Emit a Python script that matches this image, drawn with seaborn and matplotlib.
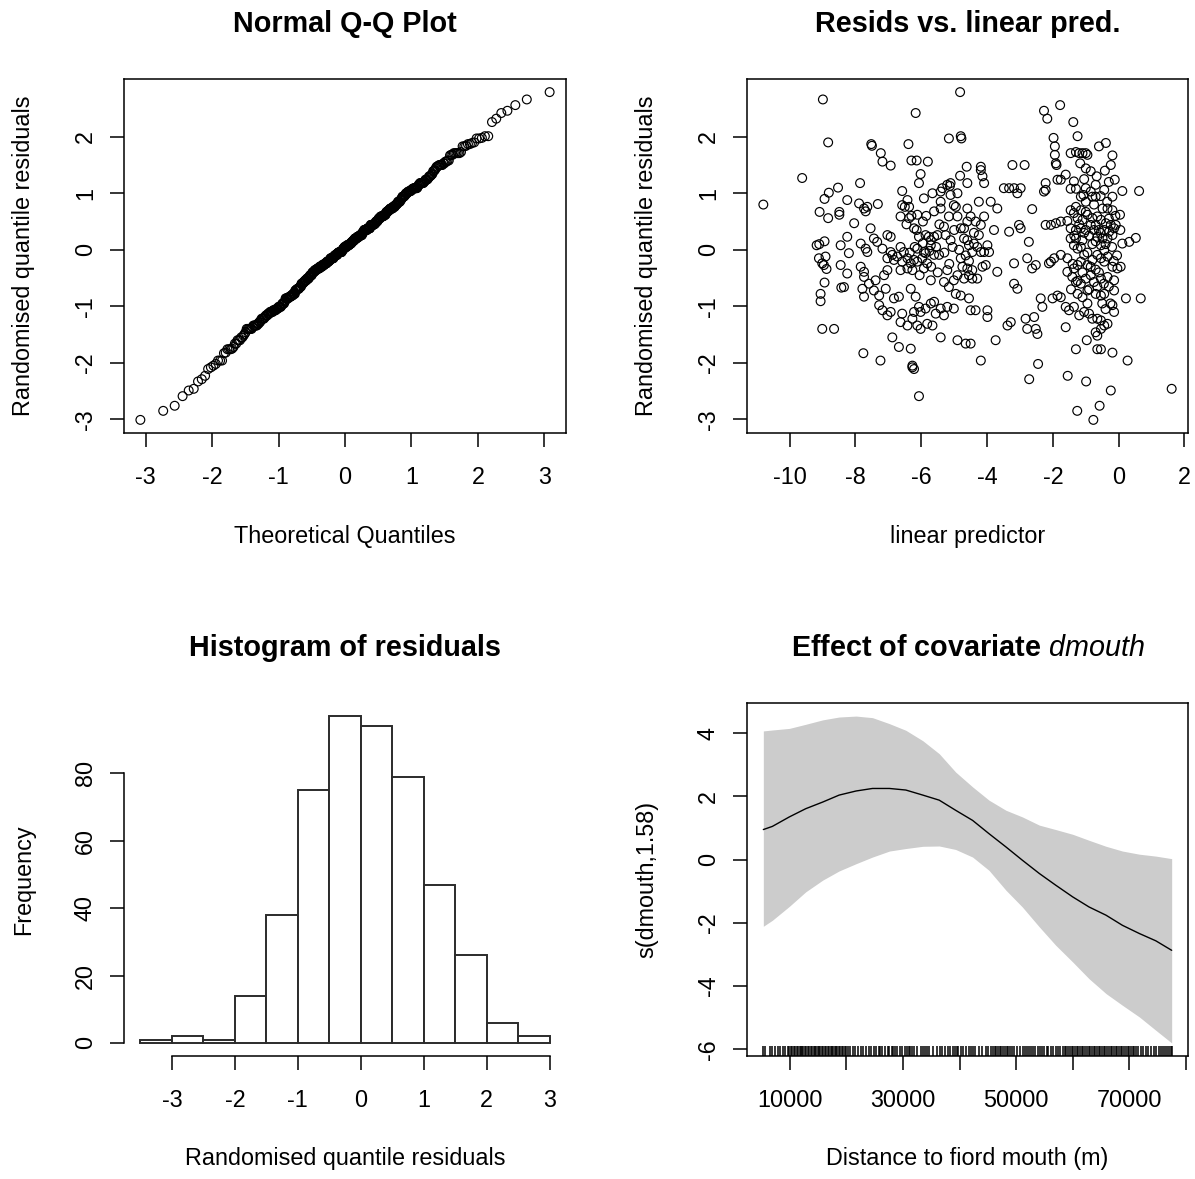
import statistics
import numpy as np
import matplotlib
matplotlib.use('Agg')
import matplotlib.pyplot as plt
import seaborn as sns

# residuals vs linear predictor (lin_pred, resid)
far_left = [(-8.99, 2.66), (-8.83, 1.90), (-9.62, 1.27), (-10.80, 0.80), (-8.53, 1.10), (-8.81, 1.01),
            (-8.94, 0.90), (-9.09, 0.67), (-8.83, 0.56), (-8.49, 0.67), (-8.49, 0.62), (-8.94, 0.15),
            (-9.18, 0.08), (-9.10, 0.10), (-8.45, 0.08), (-9.11, -0.15), (-9.01, -0.24), (-8.91, -0.12),
            (-8.96, -0.27), (-8.88, -0.34), (-8.94, -0.58), (-9.06, -0.78), (-9.06, -0.91), (-9.01, -1.40),
            (-8.65, -1.40), (-8.43, -0.67)]
left_tails = [(-7.52, 1.87), (-7.50, 1.84), (-6.39, 1.87), (-5.16, 1.97), (-6.17, 2.42), (-4.82, 2.79),
              (-4.80, 2.01), (-4.78, 1.97), (-7.76, -1.83), (-7.24, -1.96), (-6.27, -2.05), (-6.27, -2.08),
              (-6.22, -2.11), (-6.07, -2.59)]
left_top = [(-7.23, 1.71), (-7.18, 1.56), (-6.93, 1.49), (-6.30, 1.58), (-6.14, 1.58), (-5.80, 1.56),
            (-4.62, 1.47), (-4.19, 1.47), (-4.19, 1.41), (-3.23, 1.50), (-2.86, 1.50),
            (-6.02, 1.34), (-6.07, 1.18), (-7.86, 1.18), (-6.58, 1.04), (-5.11, 1.18), (-5.21, 1.15),
            (-4.82, 1.31), (-4.60, 1.18), (-4.14, 1.30), (-4.09, 1.18), (-3.49, 1.09), (-3.33, 1.09),
            (-3.18, 1.09), (-3.08, 1.00), (-2.98, 1.09), (-2.63, 0.72)]
left_upper_mid = [(-8.25, 0.88), (-7.89, 0.82), (-7.74, 0.73), (-7.64, 0.76), (-7.69, 0.68), (-7.32, 0.81),
                  (-6.58, 0.79), (-6.42, 0.88), (-6.37, 0.76), (-6.63, 0.59), (-6.37, 0.56), (-6.12, 0.62),
                  (-5.92, 0.91), (-5.66, 1.00), (-5.41, 1.03), (-5.61, 0.68), (-5.41, 0.85), (-5.41, 0.73),
                  (-5.11, 0.97), (-4.90, 1.00), (-5.01, 0.79), (-4.95, 0.76), (-4.60, 0.73), (-4.50, 0.59),
                  (-4.60, 0.50), (-4.35, 0.50), (-4.25, 0.85), (-3.89, 0.85), (-3.69, 0.73), (-4.09, 0.59),
                  (-4.19, 0.44), (-4.80, 0.38), (-4.70, 0.38), (-5.36, 1.09), (-5.13, 1.13), (-5.85, 0.60),
                  (-6.50, 0.76), (-6.30, 0.60)]
left_centre = [(-8.04, 0.47), (-7.54, 0.38), (-7.44, 0.20), (-7.03, 0.26), (-6.93, 0.23), (-6.93, -0.04),
               (-6.88, -0.09), (-6.63, 0.05), (-6.22, 0.38), (-6.14, 0.35), (-6.07, 0.23), (-5.87, 0.26),
               (-5.77, 0.23), (-5.71, 0.17), (-5.61, 0.23), (-5.51, 0.26), (-5.71, 0.08), (-5.92, -0.04),
               (-6.12, 0.02), (-5.26, 0.26), (-5.11, 0.17), (-5.31, 0.41), (-5.16, 0.59), (-4.90, 0.59),
               (-4.70, 0.20), (-4.60, 0.17), (-4.55, 0.08), (-4.40, 0.11), (-4.30, 0.05), (-4.45, -0.04),
               (-4.19, -0.04), (-4.09, -0.04), (-3.94, -0.04), (-3.99, 0.08), (-4.25, 0.26), (-3.79, 0.35),
               (-3.33, 0.32), (-2.98, 0.38), (-3.03, 0.44), (-2.73, 0.14), (-8.25, 0.23), (-8.20, -0.06),
               (-7.84, 0.11), (-7.69, 0.02), (-7.64, -0.04), (-7.34, 0.14), (-7.18, 0.02),
               (-6.20, 0.05), (-5.95, 0.12), (-5.75, -0.02), (-5.55, 0.05), (-5.30, -0.05), (-5.05, 0.05),
               (-4.85, 0.00), (-4.65, -0.10), (-6.35, -0.05), (-4.40, 0.30), (-6.45, 0.45), (-5.95, 0.50),
               (-5.45, 0.45), (-5.00, 0.35)]
left_lower_mid = [(-7.03, -0.15), (-6.83, -0.18), (-6.73, -0.12), (-6.58, -0.21), (-6.53, -0.04), (-6.42, -0.15),
                  (-6.32, -0.24), (-6.22, -0.18), (-6.12, -0.21), (-5.97, -0.15), (-5.87, -0.06), (-5.82, -0.24),
                  (-5.61, -0.09), (-5.46, -0.09), (-5.92, -0.33), (-6.42, -0.33), (-6.27, -0.36), (-6.63, -0.36),
                  (-7.03, -0.36), (-7.84, -0.30), (-7.74, -0.39), (-8.25, -0.42), (-8.35, -0.66), (-7.74, -0.48),
                  (-7.59, -0.60), (-7.39, -0.54), (-7.13, -0.45), (-5.71, -0.54), (-5.31, -0.57), (-5.21, -0.36),
                  (-5.01, -0.54), (-4.80, -0.15), (-4.75, -0.30), (-4.60, -0.33), (-4.55, -0.45), (-4.45, -0.36),
                  (-4.70, -0.51), (-4.45, -0.51), (-4.30, -0.51), (-4.14, -0.30), (-4.04, -0.27), (-3.69, -0.39),
                  (-3.18, -0.24), (-2.78, -0.15), (-2.63, -0.33), (-2.52, -0.27), (-8.45, -0.27),
                  (-6.05, -0.45), (-5.70, -0.30), (-5.50, -0.40), (-5.15, -0.25), (-4.90, -0.45), (-4.55, -0.20)]
left_bottom = [(-7.79, -0.69), (-7.74, -0.83), (-7.44, -0.72), (-7.28, -0.81), (-7.28, -0.98), (-7.08, -0.69),
               (-6.83, -0.86), (-6.68, -0.83), (-6.93, -1.10), (-7.03, -1.16), (-7.18, -1.07), (-6.32, -0.69),
               (-6.17, -0.83), (-6.07, -1.01), (-6.02, -1.10), (-5.87, -1.04), (-5.71, -0.95), (-5.61, -0.92),
               (-5.56, -1.13), (-5.41, -1.04), (-5.31, -1.16), (-6.22, -1.10), (-6.27, -1.22), (-6.58, -1.13),
               (-6.63, -1.28), (-5.16, -0.66), (-4.95, -0.78), (-4.80, -0.81), (-4.55, -0.86), (-4.50, -1.07),
               (-4.35, -1.07), (-5.21, -1.01), (-5.01, -1.04), (-3.99, -1.07), (-3.99, -1.19), (-3.38, -1.34),
               (-3.28, -1.28), (-3.18, -0.60), (-3.08, -0.69), (-2.83, -1.22), (-2.57, -1.19), (-2.52, -1.40),
               (-6.42, -1.34), (-6.02, -1.40), (-5.82, -1.31), (-5.66, -1.34), (-5.41, -1.55), (-6.12, -1.34),
               (-6.88, -1.55), (-6.68, -1.72), (-6.32, -1.75), (-4.90, -1.60), (-4.65, -1.66), (-4.50, -1.66),
               (-3.74, -1.60), (-2.78, -1.40), (-2.47, -1.49)]
right_upper = [(-2.27, 2.46), (-2.17, 2.32), (-1.78, 2.56), (-1.38, 2.26), (-1.25, 2.01), (-1.98, 1.98),
               (-1.94, 1.83), (-1.94, 1.68), (-1.91, 1.53), (-1.89, 1.50), (-1.46, 1.71), (-1.30, 1.73),
               (-1.20, 1.71), (-1.10, 1.71), (-1.00, 1.71), (-0.95, 1.68), (-1.17, 1.53), (-1.00, 1.44),
               (-0.85, 1.39), (-0.67, 1.30), (-0.60, 1.83), (-0.39, 1.89), (-0.19, 1.67), (-0.24, 1.50),
               (-0.42, 1.40), (-0.12, 1.24), (-0.44, 1.06), (-0.19, 0.94), (0.11, 1.04), (0.62, 1.04),
               (-1.76, 1.24), (-1.86, 1.24), (-1.61, 1.33), (-2.22, 1.18), (-2.22, 1.06), (-2.27, 1.03),
               (-1.36, 1.21), (-1.46, 1.08), (-1.30, 1.08), (-1.00, 1.09), (-0.85, 1.03), (-1.15, 0.94),
               (-1.07, 0.97), (-0.80, 0.94), (-0.70, 0.94), (-1.05, 1.25), (-0.70, 1.15), (-0.30, 1.20)]
right_mid = [(-1.46, 0.70), (-1.30, 0.76), (-1.15, 0.70), (-1.00, 0.67), (-1.36, 0.65), (-1.25, 0.56),
             (-1.10, 0.53), (-0.95, 0.62), (-0.80, 0.56), (-0.65, 0.59), (-0.49, 0.73), (-0.34, 0.73),
             (-0.19, 0.70), (0.04, 0.62), (-0.54, 0.53), (-0.39, 0.47), (-0.24, 0.44), (-0.09, 0.44),
             (-1.46, 0.38), (-1.30, 0.35), (-1.15, 0.38), (-1.00, 0.35), (-0.85, 0.44), (-0.70, 0.44),
             (-0.75, 0.35), (-0.60, 0.35), (-0.44, 0.35), (-0.29, 0.32), (-0.14, 0.38), (-0.65, 0.23),
             (-0.49, 0.20), (-0.34, 0.20), (-0.19, 0.26), (0.11, 0.11), (0.32, 0.14), (0.52, 0.21),
             (-2.22, 0.44), (-2.06, 0.44), (-1.91, 0.47), (-1.76, 0.50), (-1.56, 0.51), (-1.46, 0.20),
             (-1.30, 0.20), (-1.10, 0.17), (-1.36, 0.08), (-1.25, 0.02), (-0.54, 0.08), (-0.44, -0.01),
             (-1.20, 0.45), (-1.05, 0.30), (-0.90, 0.25), (-0.80, 0.10), (-0.70, 0.15), (-0.55, 0.30),
             (-0.40, 0.10), (-0.30, 0.55), (-1.15, 0.05), (-0.95, -0.05), (-1.00, 0.85), (-0.75, 0.80),
             (-0.55, 0.95), (-0.35, 0.85), (-0.20, 0.05), (-1.35, 0.25), (-0.10, 0.60), (0.05, 0.35)]
right_lower = [(-2.06, -0.21), (-2.12, -0.24), (-1.96, -0.15), (-1.76, -0.09), (-1.56, -0.15), (-1.56, -0.39),
               (-1.41, -0.48), (-1.36, -0.33), (-1.25, -0.27), (-1.15, -0.21), (-1.05, -0.09), (-0.95, -0.27),
               (-0.80, -0.18), (-0.65, -0.09), (-0.54, -0.15), (-0.44, -0.21), (-0.34, -0.12), (-0.19, -0.30),
               (-0.04, -0.33), (0.06, -0.30), (-1.30, -0.57), (-1.15, -0.60), (-1.00, -0.51), (-0.85, -0.45),
               (-0.75, -0.57), (-0.54, -0.51), (-0.34, -0.48), (-0.14, -0.54), (-1.25, -0.78), (-1.10, -0.84),
               (-0.95, -0.72), (-0.70, -0.78), (-0.54, -0.81), (-0.14, -0.72), (-0.44, -0.78), (0.22, -0.86),
               (0.67, -0.86), (-2.37, -0.86), (-2.32, -1.01), (-2.01, -0.86), (-1.86, -0.81), (-1.76, -0.84),
               (-1.61, -1.01), (-1.51, -1.07), (-1.36, -1.01), (-1.20, -1.16), (-1.05, -1.10), (-0.90, -1.13),
               (-0.80, -1.22), (-0.65, -1.22), (-0.54, -1.25), (-0.44, -1.34), (-0.34, -1.31), (-0.19, -0.98),
               (-0.14, -1.10), (-0.70, -1.46), (-0.65, -1.52), (-0.54, -1.40), (-1.61, -1.37),
               (-0.85, -0.30), (-0.70, -0.35), (-0.60, -0.40), (-0.45, -0.60), (-0.30, -0.65), (-1.10, -0.40),
               (-1.25, -0.55), (-0.90, -0.70), (-0.65, -0.65), (-0.50, -0.95), (-0.15, -0.20), (-1.40, -0.25),
               (-0.25, -0.95), (-0.95, -0.95), (-0.40, -1.05), (-1.45, -0.70), (-0.05, -0.10)]
right_tail = [(-1.30, -1.76), (-0.97, -1.60), (-0.65, -1.76), (-0.54, -1.76), (-0.19, -1.82), (0.27, -1.96),
              (-2.45, -2.02), (-2.72, -2.29), (-1.55, -2.23), (-0.99, -2.33), (-0.24, -2.49), (-1.26, -2.85),
              (-0.77, -3.01), (-0.58, -2.76), (1.61, -2.46), (-4.19, -1.96)]

# histogram of (a separate draw of) the residuals
hist_edges = [-3.5, -3.0, -2.5, -2.0, -1.5, -1.0, -0.5, 0.0, 0.5, 1.0, 1.5, 2.0, 2.5, 3.0]
hist_counts = [1, 2, 1, 14, 38, 75, 97, 94, 79, 47, 26, 6, 2]

# smooth of dmouth with its confidence band
dmouth_grid = [5300, 6900, 9900, 12800, 15800, 18700, 21700, 24600, 27600, 30500, 33500, 36400, 39300,
               42300, 45200, 48200, 51100, 54100, 57000, 60000, 62900, 65900, 68800, 71800, 74700, 77500]
s_fit = [0.95, 1.05, 1.35, 1.61, 1.82, 2.04, 2.17, 2.25, 2.25, 2.20, 2.04, 1.88, 1.56,
         1.24, 0.82, 0.40, -0.02, -0.44, -0.81, -1.18, -1.50, -1.76, -2.08, -2.34, -2.57, -2.87]
s_upper = [4.07, 4.10, 4.15, 4.28, 4.42, 4.51, 4.54, 4.49, 4.30, 4.09, 3.76, 3.35, 2.77,
           2.30, 1.88, 1.56, 1.35, 1.09, 0.95, 0.80, 0.61, 0.42, 0.27, 0.17, 0.11, 0.03]
s_lower = [-2.11, -1.92, -1.48, -1.02, -0.65, -0.36, -0.13, 0.08, 0.27, 0.35, 0.42, 0.43, 0.32,
           0.08, -0.34, -0.97, -1.50, -2.13, -2.71, -3.24, -3.77, -4.24, -4.61, -4.98, -5.40, -5.80]
# observed dmouth values (km) shown as the rug
dmouth_km = [5.3, 5.6, 6.4, 6.9, 7.4, 7.9, 8.3, 8.8, 9.2, 9.6, 9.9, 10.2, 10.4, 10.7, 10.9, 11.2, 11.4, 11.7,
             11.9, 12.2, 12.4, 12.7, 12.9, 13.2, 13.4, 13.7, 13.9, 14.2, 14.4, 14.7, 14.9, 15.2, 15.4, 15.7,
             15.9, 16.2, 16.4, 16.7, 16.9, 17.2, 17.4, 17.7, 17.9, 18.2, 18.4, 18.7, 18.9, 19.2, 19.4, 19.7,
             19.9, 20.2, 20.6, 21.1, 21.5, 22.0, 22.6, 23.0, 23.4, 23.9, 24.3, 24.8, 25.3, 25.7, 26.0, 26.3,
             26.8, 27.3, 27.6, 28.0, 28.3, 28.6, 29.0, 29.5, 29.9, 30.3, 30.7, 31.0, 31.3, 31.6, 32.0, 32.5,
             33.1, 33.5, 33.8, 34.2, 34.6, 35.3, 36.0, 36.5, 36.9, 37.4, 37.9, 38.3, 38.8, 39.2, 39.5, 39.8,
             40.2, 40.6, 41.1, 41.6, 42.0, 42.4, 42.8, 43.4, 44.0, 44.7, 45.1, 45.5, 45.9, 46.2, 46.5, 46.8,
             47.1, 47.4, 47.7, 48.0, 48.3, 48.6, 48.9, 49.2, 49.6, 50.1, 50.7, 51.2, 51.6, 51.9, 52.3, 52.7,
             53.0, 53.4, 53.8, 54.2, 54.6, 55.0, 55.4, 55.7, 56.1, 56.6, 57.0, 57.4, 57.8, 58.2, 58.6, 58.9,
             59.2, 59.5, 59.8, 60.1, 60.4, 60.7, 61.0, 61.3, 61.6, 61.9, 62.2, 62.5, 62.8, 63.1, 63.4, 63.7,
             64.0, 64.3, 64.6, 64.9, 65.2, 65.5, 65.8, 66.1, 66.4, 66.7, 67.0, 67.3, 67.6, 67.9, 68.2, 68.5,
             68.8, 69.1, 69.4, 69.7, 70.0, 70.3, 70.6, 70.9, 71.2, 71.6, 72.1, 72.5, 72.9, 73.4, 73.9, 74.3,
             74.8, 75.2, 75.6, 75.9, 76.3, 76.7, 77.0, 77.3, 77.5]

qq_xticks = [-3, -2, -1, 0, 1, 2, 3]
resid_ticks = [-3, -2, -1, 0, 1, 2]
lp_ticks = [-10, -8, -6, -4, -2, 0, 2]
hist_xticks = [-3, -2, -1, 0, 1, 2, 3]
hist_yticks = [0, 20, 40, 60, 80]
eff_xticks = [10000, 20000, 30000, 40000, 50000, 60000, 70000, 80000]
eff_xticklabels = ['10000', '', '30000', '', '50000', '', '70000', '']
eff_yticks = [-6, -4, -2, 0, 2, 4]

pts = np.array(far_left + left_tails + left_top + left_upper_mid + left_centre + left_lower_mid
               + left_bottom + right_upper + right_mid + right_lower + right_tail)
lin_pred, resid = pts[:, 0], pts[:, 1]
n = len(resid)
nd = statistics.NormalDist()
theo = np.array([nd.inv_cdf((i + 0.5) / n) for i in range(n)])
qq_y = np.sort(resid)

sns.set_style('white')
plt.rcParams['font.family'] = ['Liberation Sans', 'DejaVu Sans']
plt.rcParams.update({
    'axes.edgecolor': 'black', 'axes.linewidth': 1.1, 'axes.unicode_minus': False,
    'xtick.bottom': True, 'ytick.left': True,
    'xtick.direction': 'out', 'ytick.direction': 'out',
    'xtick.major.size': 10, 'ytick.major.size': 10,
    'xtick.major.width': 1.1, 'ytick.major.width': 1.1,
    'xtick.color': 'black', 'ytick.color': 'black',
    'xtick.labelsize': 16.8, 'ytick.labelsize': 16.8,
    'xtick.major.pad': 13.5, 'ytick.major.pad': 9.5,
    'axes.labelsize': 16.8, 'axes.labelcolor': 'black', 'text.color': 'black',
    'mathtext.fontset': 'custom', 'mathtext.rm': 'Liberation Sans',
    'mathtext.bf': 'Liberation Sans:bold', 'mathtext.it': 'Liberation Sans:italic',
})

W, H = 1195, 1179
fig = plt.figure(figsize=(W / 100, H / 100), dpi=100)


def add_box(left, top, right, bottom):
    return fig.add_axes([left / W, 1 - bottom / H, (right - left) / W, (bottom - top) / H])


def r_lim(vals):
    lo, hi = float(np.min(vals)), float(np.max(vals))
    ext = 0.04 * (hi - lo)
    return lo - ext, hi + ext


def r_style(ax, title, xlabel, ylabel, yticks, xticks, xticklabels=None):
    ax.set_xticks(xticks)
    ax.set_xticklabels(xticklabels if xticklabels is not None else [str(t) for t in xticks])
    ax.set_yticks(yticks)
    ax.set_yticklabels([str(t) for t in yticks], rotation=90, va='center')
    if title.startswith('$'):
        ax.set_title(title, fontsize=20.7, y=1 + 47 / 354, pad=0)
    else:
        ax.set_title(title, fontsize=20.7, fontweight='bold', y=1 + 47 / 354, pad=0)
    ax.set_xlabel(xlabel)
    ax.set_ylabel(ylabel)
    ax.xaxis.set_label_coords(0.5, -103 / 354)
    ax.xaxis.label.set_va('center')
    ax.yaxis.set_label_coords(-100 / 441, 0.5)
    ax.yaxis.label.set_va('center')
    for sp in ax.spines.values():
        sp.set_color('black')


# Normal Q-Q plot
ax1 = add_box(124, 79, 566, 433)
sns.scatterplot(x=theo, y=qq_y, ax=ax1, s=40, facecolor='none', edgecolor='black', linewidth=0.85)
ax1.set_xlim(r_lim(theo))
ax1.set_ylim(r_lim(qq_y))
r_style(ax1, 'Normal Q-Q Plot', 'Theoretical Quantiles', 'Randomised quantile residuals',
        resid_ticks, qq_xticks)

# residuals vs linear predictor
ax2 = add_box(747, 79, 1188, 433)
sns.scatterplot(x=lin_pred, y=resid, ax=ax2, s=40, facecolor='none', edgecolor='black', linewidth=0.85)
ax2.set_xlim(r_lim(lin_pred))
ax2.set_ylim(r_lim(resid))
r_style(ax2, 'Resids vs. linear pred.', 'linear predictor', 'Randomised quantile residuals',
        resid_ticks, lp_ticks)

# histogram
ax3 = add_box(124, 703, 566, 1056)
mids = [(a + b) / 2 for a, b in zip(hist_edges[:-1], hist_edges[1:])]
sns.histplot(x=mids, weights=hist_counts, bins=hist_edges, ax=ax3, color='white', alpha=1,
             edgecolor='#2b2b2b', linewidth=1.4)
ax3.set_xlim(r_lim(hist_edges))
ax3.set_ylim(r_lim([0] + hist_counts))
r_style(ax3, 'Histogram of residuals', 'Randomised quantile residuals', 'Frequency',
        hist_yticks, hist_xticks)
ax3.spines['top'].set_visible(False)
ax3.spines['right'].set_visible(False)
ax3.spines['bottom'].set_bounds(hist_xticks[0], hist_xticks[-1])
ax3.spines['left'].set_bounds(hist_yticks[0], hist_yticks[-1])

# effect of dmouth
ax4 = add_box(747, 703, 1188, 1056)
ax4.fill_between(dmouth_grid, s_lower, s_upper, color='#cccccc', linewidth=0)
sns.lineplot(x=dmouth_grid, y=s_fit, ax=ax4, color='black', linewidth=1.0)
ax4.set_xlim(r_lim(dmouth_grid))
ax4.set_ylim(r_lim(s_lower + s_upper))
sns.rugplot(x=np.array(dmouth_km) * 1000, ax=ax4, height=0.028, color='black', linewidth=1.1,
            expand_margins=False)
r_style(ax4, r'$\mathbf{Effect\ of\ covariate}\ \mathit{dmouth}$', 'Distance to fiord mouth (m)',
        's(dmouth,1.58)', eff_yticks, eff_xticks, eff_xticklabels)

fig.savefig('out.png', dpi=100, facecolor='white')
